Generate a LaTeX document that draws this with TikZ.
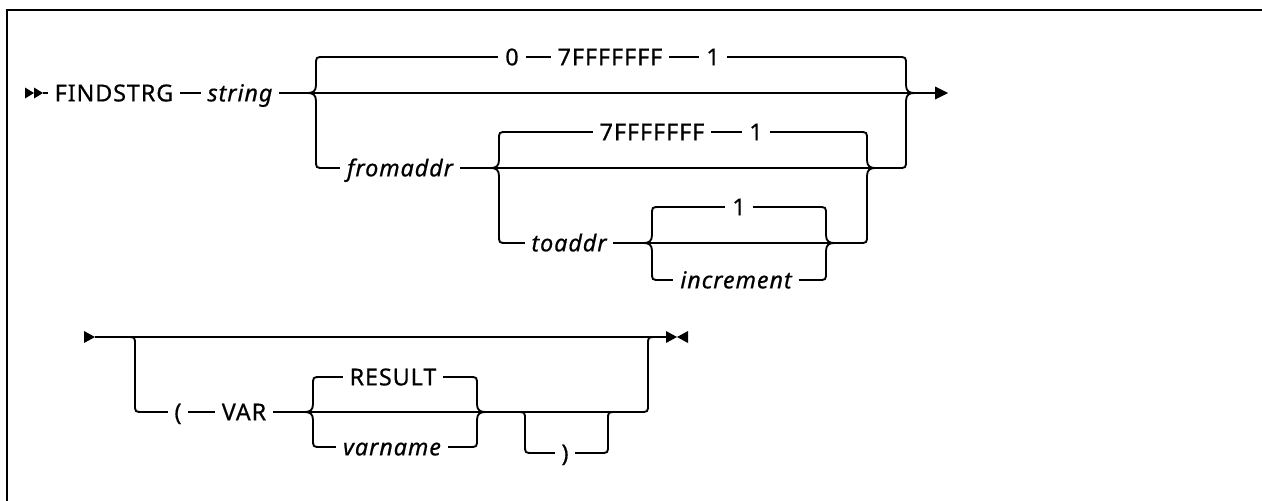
\documentclass[tikz,border=0pt]{standalone}
\usepackage{fontspec}
\setmainfont{Noto Sans}[LetterSpace=4,FakeBold=0.6]
\newcommand\rrfont{\fontsize{17.5pt}{20pt}\selectfont}
% left brace: name, X, top, mid(cusp), bottom
\newcommand\LBrc[5]{%
  \coordinate (#1-t) at ({#2+8},#3);
  \coordinate (#1-m) at ({#2-8},#4);
  \coordinate (#1-b) at ({#2+8},#5);
  \draw[rail] (#1-t) .. controls (#2,#3) .. (#2,{#3+8}) -- (#2,{#4-8})
    .. controls (#2,{#4-2}) and ({#2-3},#4) .. (#1-m)
    .. controls ({#2-3},#4) and (#2,{#4+2}) .. (#2,{#4+8})
    -- (#2,{#5-8}) .. controls (#2,#5) .. (#1-b);}
% right brace
\newcommand\RBrc[5]{%
  \coordinate (#1-t) at ({#2-8},#3);
  \coordinate (#1-m) at ({#2+8},#4);
  \coordinate (#1-b) at ({#2-8},#5);
  \draw[rail] (#1-t) .. controls (#2,#3) .. (#2,{#3+8}) -- (#2,{#4-8})
    .. controls (#2,{#4-2}) and ({#2+3},#4) .. (#1-m)
    .. controls ({#2+3},#4) and (#2,{#4+2}) .. (#2,{#4+8})
    -- (#2,{#5-8}) .. controls (#2,#5) .. (#1-b);}
% left bracket (branch down): name, X, top, bottom
\newcommand\LBkt[4]{%
  \coordinate (#1-t) at ({#2-8},#3);
  \coordinate (#1-b) at ({#2+8},#4);
  \draw[rail] (#1-t) .. controls (#2,#3) .. (#2,{#3+8}) -- (#2,{#4-8})
    .. controls (#2,#4) .. (#1-b);}
% right bracket (branch back up)
\newcommand\RBkt[4]{%
  \coordinate (#1-t) at ({#2+8},#3);
  \coordinate (#1-b) at ({#2-8},#4);
  \draw[rail] (#1-b) .. controls (#2,#4) .. (#2,{#4-8}) -- (#2,{#3+8})
    .. controls (#2,#3) .. (#1-t);}
\begin{document}
\begin{tikzpicture}[x=0.75pt,y=-0.75pt,
  rail/.style={line width=1.4pt},
  lbl/.style={inner xsep=5pt,inner ysep=0pt,text height=12.5pt,text depth=0pt,font=\rrfont},
  vlbl/.style={lbl,font=\rrfont\itshape},
  tipfill/.style={fill=black,draw=none}]
\useasboundingbox (0,0) rectangle (1262,500);
% frame (top and left edges)
\draw[line width=2pt] (7,501) -- (7,10) -- (1263,10);

% ---------------- row 1 ----------------
\coordinate (s1) at (43,93);
\fill[tipfill] (25,87.5) -- (34,93) -- (25,98.5) -- cycle;
\fill[tipfill] (34,87.5) -- (43,93) -- (34,98.5) -- cycle;
\node[lbl] (find) at (114,93) {FINDSTRG};
\node[vlbl] (str) at (240,93) {string};
\LBrc{L1}{316}{57}{93}{168}
\RBrc{R1}{906}{57}{93}{168}
\coordinate (end1) at (935,93);
\fill[tipfill] (935,86.5) -- (948,93) -- (935,99.5) -- cycle;
\node[lbl] (zero) at (512,57) {0};
\node[lbl] (sevA) at (610,57) {7FFFFFFF};
\node[lbl] (oneA) at (713,57) {1};
\node[vlbl] (from) at (400,168) {fromaddr};
\LBrc{L2}{499}{132}{168}{243}
\RBrc{R2}{867}{132}{168}{243}
\node[lbl] (sevB) at (652,132) {7FFFFFFF};
\node[lbl] (oneB) at (756,132) {1};
\node[vlbl] (to) at (569,243) {toaddr};
\LBrc{L3}{652}{207}{243}{280}
\RBrc{R3}{826}{207}{243}{280}
\node[lbl] (oneC) at (739,207) {1};
\node[vlbl] (inc) at (736,280) {increment};

\draw[rail] (s1) -- (find);
\draw[rail] (find) -- (str);
\draw[rail] (str) -- (L1-m) -- (R1-m) -- (end1);
\draw[rail] (L1-t) -- (zero) -- (sevA) -- (oneA) -- (R1-t);
\draw[rail] (L1-b) -- (from) -- (L2-m) -- (R2-m) -- (R1-b);
\draw[rail] (L2-t) -- (sevB) -- (oneB) -- (R2-t);
\draw[rail] (L2-b) -- (to) -- (L3-m) -- (R3-m) -- (R2-b);
\draw[rail] (L3-t) -- (oneC) -- (R3-t);
\draw[rail] (L3-b) -- (inc) -- (R3-b);

% ---------------- row 2 ----------------
\coordinate (s2) at (95,337);
\coordinate (e2) at (666,337);
\fill[tipfill] (84,331) -- (95,337) -- (84,343) -- cycle;
\fill[tipfill] (666,331) -- (677,337) -- (666,343) -- cycle;
\fill[tipfill] (688,331) -- (677,337) -- (688,343) -- cycle;
\LBkt{K1}{135}{337}{412}
\RBkt{K2}{648}{337}{412}
\node[lbl] (lp) at (178,412) {(};
\node[lbl] (var) at (244,412) {VAR};
\LBrc{L4}{313}{377}{412}{447}
\RBrc{R4}{477}{377}{412}{447}
\node[lbl] (res) at (393,377) {RESULT};
\node[vlbl] (vn) at (392,447) {varname};
\LBkt{K3}{525}{412}{453}
\RBkt{K4}{608}{412}{453}
\node[lbl] (rp) at (565,453) {)};

\draw[rail] (s2) -- (e2);
\draw[rail] (K1-b) -- (lp) -- (var) -- (L4-m) -- (R4-m) -- (K2-b);
\draw[rail] (L4-t) -- (res) -- (R4-t);
\draw[rail] (L4-b) -- (vn) -- (R4-b);
\draw[rail] (K3-b) -- (rp) -- (K4-b);
\end{tikzpicture}
\end{document}
